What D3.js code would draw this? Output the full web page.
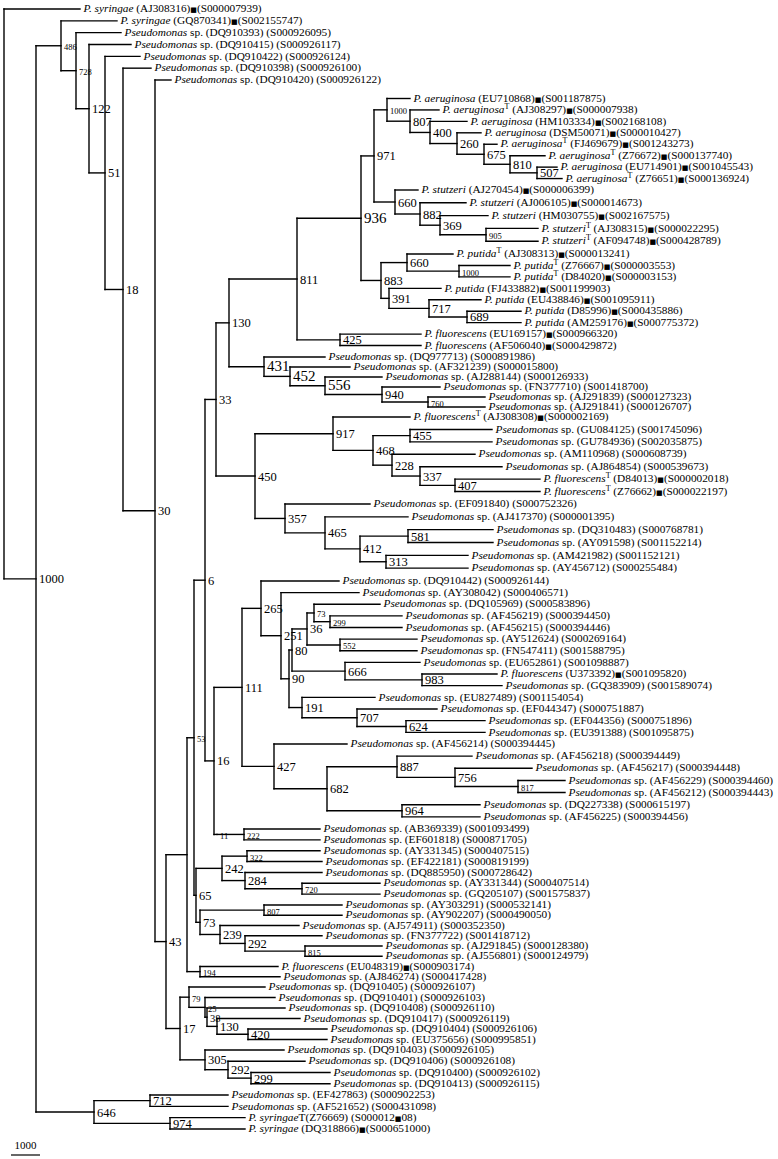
<!DOCTYPE html>
<html>
<head>
<meta charset="utf-8">
<script src="https://cdn.jsdelivr.net/npm/d3@7"></script>
<style>
  html, body { margin: 0; padding: 0; background: #fff; }
  svg { display: block; }
  text { font-family: "Liberation Serif", "Times New Roman", serif; fill: #000; }
</style>
</head>
<body>
<svg id="chart" width="778" height="1159"></svg>
<script>
// ---- leaves, top to bottom ----
var leafTaxa = [
  "P. syringae", "P. syringae", "Pseudomonas", "Pseudomonas", "Pseudomonas", "Pseudomonas", "Pseudomonas",
  "P. aeruginosa", "P. aeruginosa", "P. aeruginosa", "P. aeruginosa", "P. aeruginosa", "P. aeruginosa", "P. aeruginosa", "P. aeruginosa",
  "P. stutzeri", "P. stutzeri", "P. stutzeri", "P. stutzeri", "P. stutzeri",
  "P. putida", "P. putida", "P. putida", "P. putida", "P. putida", "P. putida", "P. putida",
  "P. fluorescens", "P. fluorescens",
  "Pseudomonas", "Pseudomonas", "Pseudomonas", "Pseudomonas", "Pseudomonas", "Pseudomonas",
  "P. fluorescens", "Pseudomonas", "Pseudomonas", "Pseudomonas", "Pseudomonas", "P. fluorescens", "P. fluorescens",
  "Pseudomonas", "Pseudomonas", "Pseudomonas", "Pseudomonas", "Pseudomonas", "Pseudomonas",
  "Pseudomonas", "Pseudomonas", "Pseudomonas", "Pseudomonas", "Pseudomonas", "Pseudomonas", "Pseudomonas", "Pseudomonas",
  "P. fluorescens", "Pseudomonas", "Pseudomonas", "Pseudomonas", "Pseudomonas", "Pseudomonas",
  "Pseudomonas", "Pseudomonas", "Pseudomonas", "Pseudomonas", "Pseudomonas", "Pseudomonas", "Pseudomonas",
  "Pseudomonas", "Pseudomonas",
  "Pseudomonas", "Pseudomonas", "Pseudomonas", "Pseudomonas", "Pseudomonas",
  "Pseudomonas", "Pseudomonas", "Pseudomonas", "Pseudomonas", "Pseudomonas", "Pseudomonas",
  "P. fluorescens", "Pseudomonas",
  "Pseudomonas", "Pseudomonas", "Pseudomonas", "Pseudomonas", "Pseudomonas", "Pseudomonas",
  "Pseudomonas", "Pseudomonas", "Pseudomonas", "Pseudomonas",
  "Pseudomonas", "Pseudomonas", "P. syringae", "P. syringae"
];
var leafAccessions = [
  "AJ308316", "GQ870341", "DQ910393", "DQ910415", "DQ910422", "DQ910398", "DQ910420",
  "EU710868", "AJ308297", "HM103334", "DSM50071", "FJ469679", "Z76672", "EU714901", "Z76651",
  "AJ270454", "AJ006105", "HM030755", "AJ308315", "AF094748",
  "AJ308313", "Z76667", "D84020", "FJ433882", "EU438846", "D85996", "AM259176",
  "EU169157", "AF506040",
  "DQ977713", "AF321239", "AJ288144", "FN377710", "AJ291839", "AJ291841",
  "AJ308308", "GU084125", "GU784936", "AM110968", "AJ864854", "D84013", "Z76662",
  "EF091840", "AJ417370", "DQ310483", "AY091598", "AM421982", "AY456712",
  "DQ910442", "AY308042", "DQ105969", "AF456219", "AF456215", "AY512624", "FN547411", "EU652861",
  "U373392", "GQ383909", "EU827489", "EF044347", "EF044356", "EU391388",
  "AF456214", "AF456218", "AF456217", "AF456229", "AF456212", "DQ227338", "AF456225",
  "AB369339", "EF601818",
  "AY331345", "EF422181", "DQ885950", "AY331344", "GQ205107",
  "AY303291", "AY902207", "AJ574911", "FN377722", "AJ291845", "AJ556801",
  "EU048319", "AJ846274",
  "DQ910405", "DQ910401", "DQ910408", "DQ910417", "DQ910404", "EU375656",
  "DQ910403", "DQ910406", "DQ910400", "DQ910413",
  "EF427863", "AF521652", "Z76669", "DQ318866"
];
var leafRdpIds = [
  "S000007939", "S002155747", "S000926095", "S000926117", "S000926124", "S000926100", "S000926122",
  "S001187875", "S000007938", "S002168108", "S000010427", "S001243273", "S000137740", "S001045543", "S000136924",
  "S000006399", "S000014673", "S002167575", "S000022295", "S000428789",
  "S000013241", "S000003553", "S000003153", "S001199903", "S001095911", "S000435886", "S000775372",
  "S000966320", "S000429872",
  "S000891986", "S000015800", "S000126933", "S001418700", "S000127323", "S000126707",
  "S000002169", "S001745096", "S002035875", "S000608739", "S000539673", "S000002018", "S000022197",
  "S000752326", "S000001395", "S000768781", "S001152214", "S001152121", "S000255484",
  "S000926144", "S000406571", "S000583896", "S000394450", "S000394446", "S000269164", "S001588795", "S001098887",
  "S001095820", "S001589074", "S001154054", "S000751887", "S000751896", "S001095875",
  "S000394445", "S000394449", "S000394448", "S000394460", "S000394443", "S000615197", "S000394456",
  "S001093499", "S000871705",
  "S000407515", "S000819199", "S000728642", "S000407514", "S001575837",
  "S000532141", "S000490050", "S000352350", "S001418712", "S000128380", "S000124979",
  "S000903174", "S000417428",
  "S000926107", "S000926103", "S000926110", "S000926119", "S000926106", "S000995851",
  "S000926105", "S000926108", "S000926102", "S000926115",
  "S000902253", "S000431098", "S000012\u25A008", "S000651000"
];
var typeStrains = ["AJ308297", "FJ469679", "Z76672", "Z76651", "AJ308315", "AF094748", "AJ308313",
  "Z76667", "D84020", "AJ308308", "D84013", "Z76662", "Z76669"];
var leafParents = [
  "root", "n486", "n728", "n122", "n51", "n18", "n30",
  "n1000a", "n807", "n400", "n260", "n675", "n810", "n507", "n507",
  "n660a", "n882", "n369", "n905", "n905",
  "n660b", "n1000b", "n1000b", "n391", "n717", "n689", "n689",
  "n425", "n425",
  "n431", "n452", "n556", "n940", "n760", "n760",
  "n917", "n455", "n455", "n228", "n337", "n407", "n407",
  "n357", "n465", "n581", "n581", "n313", "n313",
  "n265", "n251", "n73", "n299", "n299", "n552", "n552", "n666",
  "n983", "n983", "n191", "n707", "n624", "n624",
  "n427", "n887", "n756", "n817", "n817", "n964", "n964",
  "n222", "n222",
  "n322", "n322", "n284", "n720", "n720",
  "n807b", "n807b", "n239", "n292", "n815", "n815",
  "n194", "n194",
  "n79", "n25", "n38", "n130b", "n420", "n420",
  "n305", "n292c", "n299b", "n299b",
  "n712", "n712", "n974", "n974"
];
// distance from root of every tip
var leafDepths = [
  0.076, 0.113, 0.117, 0.127, 0.136, 0.147, 0.167,
  0.406, 0.435, 0.463, 0.477, 0.493, 0.541, 0.553, 0.558,
  0.414, 0.462, 0.484, 0.534, 0.534,
  0.449, 0.506, 0.506, 0.437, 0.477, 0.517, 0.517,
  0.417, 0.417,
  0.321, 0.346, 0.378, 0.436, 0.481, 0.481,
  0.406, 0.488, 0.488, 0.471, 0.498, 0.536, 0.536,
  0.366, 0.404, 0.489, 0.489, 0.464, 0.464,
  0.335, 0.355, 0.376, 0.398, 0.398, 0.413, 0.413, 0.416,
  0.493, 0.498, 0.371, 0.433, 0.481, 0.481,
  0.343, 0.468, 0.528, 0.561, 0.561, 0.476, 0.476,
  0.316, 0.316,
  0.316, 0.318, 0.318, 0.376, 0.376,
  0.338, 0.338, 0.295, 0.318, 0.378, 0.378,
  0.274, 0.276,
  0.261, 0.271, 0.281, 0.296, 0.323, 0.323,
  0.280, 0.301, 0.326, 0.326,
  0.224, 0.224, 0.241, 0.241
];

// ---- internal nodes ----
var nodeIds = ["root", "n1000", "n486", "n728", "n122", "n51", "n18", "n30", "n43", "n53a", "n53", "n6",
  "n33", "n130", "n811", "n936", "n971", "n1000a", "n807", "n400", "n260", "n675", "n810", "n507",
  "n660a", "n882", "n369", "n905", "n883", "n660b", "n1000b", "n391", "n717", "n689", "n425",
  "n431", "n452", "n556", "n940", "n760", "n450", "n917", "n468", "n455", "n228", "n337", "n407",
  "n357", "n465", "n412", "n581", "n313", "n16", "n111", "n265", "n251", "n90", "n80", "n36",
  "n73", "n299", "n552", "n666", "n983", "n191", "n707", "n624", "n427", "n682", "n887", "n756",
  "n817", "n964", "n11", "n222", "n65", "n242", "n322", "n284", "n720", "n73b", "n807b", "n239", "n292",
  "n815", "n194", "n17", "n79", "n25", "n38", "n130b", "n420", "n305", "n292c", "n299b",
  "n646", "n712", "n974"];
var nodeParents = [null, "root", "n1000", "n486", "n728", "n122", "n51", "n18", "n30", "n43", "n53a", "n53",
  "n6", "n33", "n130", "n811", "n936", "n971", "n1000a", "n807", "n400", "n260", "n675", "n810",
  "n971", "n660a", "n882", "n369", "n936", "n883", "n660b", "n883", "n391", "n717", "n811",
  "n130", "n431", "n452", "n556", "n940", "n33", "n450", "n917", "n468", "n468", "n228", "n337",
  "n450", "n357", "n465", "n412", "n412", "n6", "n16", "n111", "n265", "n251", "n90", "n80",
  "n36", "n73", "n36", "n80", "n666", "n90", "n191", "n707", "n111", "n427", "n682", "n887",
  "n756", "n682", "n16", "n11", "n53", "n65", "n242", "n242", "n284", "n65", "n73b", "n73b", "n239",
  "n292", "n53a", "n43", "n17", "n79", "n25", "n38", "n130b", "n17", "n305", "n292c",
  "n1000", "n646", "n646"];
var nodeDepths = [0, 0.032, 0.057, 0.072, 0.085, 0.101, 0.119, 0.151, 0.162, 0.183, 0.190, 0.201,
  0.212, 0.225, 0.293, 0.357, 0.370, 0.383, 0.406, 0.426, 0.453, 0.480, 0.506, 0.533,
  0.391, 0.416, 0.436, 0.482, 0.377, 0.403, 0.455, 0.385, 0.425, 0.463, 0.336,
  0.260, 0.286, 0.321, 0.378, 0.424, 0.251, 0.329, 0.369, 0.406, 0.388, 0.416, 0.451,
  0.281, 0.321, 0.356, 0.404, 0.382, 0.210, 0.238, 0.257, 0.277, 0.285, 0.288, 0.303,
  0.310, 0.326, 0.336, 0.341, 0.418, 0.298, 0.353, 0.402, 0.270, 0.323, 0.393, 0.451,
  0.514, 0.398, 0.213, 0.240, 0.192, 0.218, 0.243, 0.241, 0.298, 0.196, 0.260, 0.216, 0.241,
  0.301, 0.196, 0.176, 0.185, 0.201, 0.203, 0.213, 0.244, 0.201, 0.224, 0.247,
  0.090, 0.146, 0.166];
var nodeSupport = ["", "1000", "486", "728", "122", "51", "18", "30", "43", "", "53", "6",
  "33", "130", "811", "936", "971", "1000", "807", "400", "260", "675", "810", "507",
  "660", "882", "369", "905", "883", "660", "1000", "391", "717", "689", "425",
  "431", "452", "556", "940", "760", "450", "917", "468", "455", "228", "337", "407",
  "357", "465", "412", "581", "313", "16", "111", "265", "251", "90", "80", "36",
  "73", "299", "552", "666", "983", "191", "707", "624", "427", "682", "887", "756",
  "817", "964", "11", "222", "65", "242", "322", "284", "720", "73", "807", "239", "292",
  "815", "194", "17", "79", "25", "38", "130", "420", "305", "292", "299",
  "646", "712", "974"];

var scaleBarLength = 0.029;
var scaleBarLabel = "1000";

// ---- layout ----
var svg = d3.select("#chart");

var x = d3.scaleLinear().domain([0, 1]).range([4, 1004]);
// rows are not evenly spaced in the figure, so the row scale is piecewise
var y = d3.scaleLinear()
  .domain([0, 6, 7, 15, 20, 29, 35, 42, 48, 56, 62, 69, 76, 84, 90, 94, 97])
  .range([9, 80, 98.5, 190, 254, 357, 417, 504, 581, 674, 744, 829, 905, 987, 1050, 1095, 1129]);

var smallSupport = ["n486", "n728", "n1000a", "n1000b", "n760", "n299", "n73", "n222", "n322", "n720",
  "n807b", "n815", "n194", "n79", "n25", "n53", "n817", "n552", "n905", "n11"];
var midSupport = ["n38"];
var largeSupport = ["n936", "n431", "n452", "n556"];

var rows = [];
nodeIds.forEach(function (id, i) {
  rows.push({ id: id, parent: nodeParents[i], depth: nodeDepths[i], support: nodeSupport[i] });
});
leafAccessions.forEach(function (acc, i) {
  rows.push({ id: acc, parent: leafParents[i], depth: leafDepths[i], leaf: i });
});

var root = d3.stratify().id(function (d) { return d.id; }).parentId(function (d) { return d.parent; })(rows);

root.eachAfter(function (n) {
  n.px = x(n.data.depth);
  if (n.children) {
    var ys = n.children.map(function (c) { return c.py; });
    n.py = (d3.min(ys) + d3.max(ys)) / 2;
  } else {
    n.py = y(n.data.leaf);
  }
});

var lines = svg.append("g")
  .attr("stroke", "#000")
  .attr("stroke-width", 1.4)
  .attr("stroke-linecap", "square")
  .attr("fill", "none");

// horizontal branches
lines.selectAll("line.h")
  .data(root.descendants().filter(function (d) { return d.parent; }))
  .enter().append("line")
  .attr("class", "h")
  .attr("x1", function (d) { return d.parent.px; })
  .attr("x2", function (d) { return d.px; })
  .attr("y1", function (d) { return d.py; })
  .attr("y2", function (d) { return d.py; });

// vertical connectors
lines.selectAll("line.v")
  .data(root.descendants().filter(function (d) { return d.children && d.children.length > 1; }))
  .enter().append("line")
  .attr("class", "v")
  .attr("x1", function (d) { return d.px; })
  .attr("x2", function (d) { return d.px; })
  .attr("y1", function (d) { return d3.min(d.children, function (c) { return c.py; }); })
  .attr("y2", function (d) { return d3.max(d.children, function (c) { return c.py; }); });

// bootstrap values
svg.append("g").selectAll("text")
  .data(root.descendants().filter(function (d) { return d.children && d.data.support; }))
  .enter().append("text")
  .attr("x", function (d) { return d.px + 3; })
  .attr("y", function (d) { return d.py + 4.5; })
  .attr("font-size", function (d) {
    if (smallSupport.indexOf(d.id) >= 0) return 8.5;
    if (midSupport.indexOf(d.id) >= 0) return 10.5;
    if (largeSupport.indexOf(d.id) >= 0) return 15;
    return 12.5;
  })
  .text(function (d) { return d.data.support; });

// tip labels
var tipG = svg.append("g").attr("font-size", 11.3);
root.leaves().forEach(function (d) {
  var i = d.data.leaf;
  var taxon = leafTaxa[i], acc = leafAccessions[i], rdp = leafRdpIds[i];
  var damaged = rdp.indexOf("\u25A0") >= 0;
  var t = tipG.append("text").attr("x", d.px + 3.5).attr("y", d.py + 3.2);
  t.append("tspan").attr("font-style", "italic").text(taxon);
  var shift = 0;
  if (typeStrains.indexOf(acc) >= 0) {
    if (damaged) {
      t.append("tspan").text("T");
    } else {
      t.append("tspan").attr("font-size", 8).attr("dy", -4).text("T");
      shift = 4;
    }
  }
  var rest;
  if (taxon === "Pseudomonas") rest = " sp. (" + acc + ") (" + rdp + ")";
  else if (damaged) rest = "(" + acc + ")  (" + rdp + ")";
  else rest = " (" + acc + ")\u25A0(" + rdp + ")";
  var parts = rest.split("\u25A0");
  parts.forEach(function (p, k) {
    if (k > 0) {
      t.append("tspan").attr("font-family", "DejaVu Sans").attr("font-size", 7)
        .attr("dy", shift).text("\u25A0");
      shift = 0;
    }
    t.append("tspan").attr("dy", shift).text(p);
    shift = 0;
  });
});

// scale bar
var barX0 = 11, barY = 1155;
svg.append("line")
  .attr("x1", barX0).attr("x2", barX0 + x(scaleBarLength) - x(0))
  .attr("y1", barY).attr("y2", barY)
  .attr("stroke", "#000").attr("stroke-width", 1.2);
svg.append("text")
  .attr("x", barX0 + (x(scaleBarLength) - x(0)) / 2).attr("y", barY - 6)
  .attr("text-anchor", "middle").attr("font-size", 11)
  .text(scaleBarLabel);
</script>
</body>
</html>
